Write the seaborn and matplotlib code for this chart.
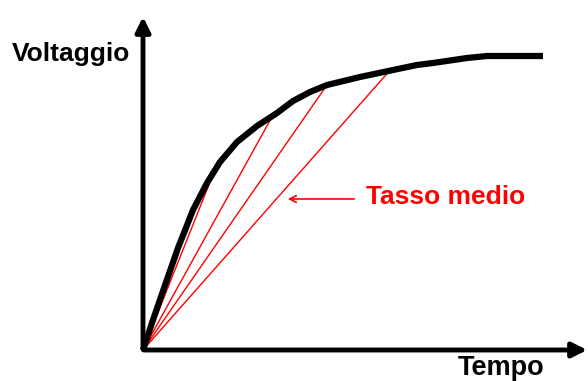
import numpy as np
import pandas as pd
import matplotlib.pyplot as plt
import seaborn as sns

# voltage curve (time, voltage)
tempo = [0, 10, 20, 35, 50, 64, 77, 94, 114, 134, 150, 167, 184, 217, 250, 274, 290, 324, 344, 400]
voltaggio = [0, 30, 59, 102, 140, 167, 188, 208, 224, 237, 249, 258, 265, 273, 280, 285, 287, 292, 294, 294]

# end points of the secant lines ("tasso medio")
secanti_x = [71, 130, 184, 249]
secanti_y = [178, 235, 265, 282]

sns.set_style("white")
plt.rcParams['font.family'] = ['Liberation Sans', 'DejaVu Sans']

fig = plt.figure(figsize=(5.88, 3.81), dpi=100)
ax = fig.add_axes([0, 0, 1, 1])

# secant lines from the origin
rows = []
for i, (xe, ye) in enumerate(zip(secanti_x, secanti_y)):
    rows.append({"t": 0, "v": 0, "k": i})
    rows.append({"t": xe, "v": ye, "k": i})
df_sec = pd.DataFrame(rows)
sns.lineplot(data=df_sec, x="t", y="v", units="k", estimator=None,
             color="red", lw=1, ax=ax)

# the curve
df = pd.DataFrame({"t": tempo, "v": voltaggio})
sns.lineplot(data=df, x="t", y="v", color="black", lw=4.5, sort=False,
             solid_capstyle="butt", solid_joinstyle="round", ax=ax)

# axes with arrows
ax.annotate("", xy=(0, 336), xytext=(0, -2), annotation_clip=False,
            arrowprops=dict(arrowstyle="-|>", lw=3.5, color="black", mutation_scale=22))
ax.annotate("", xy=(447, 0), xytext=(-2, 0), annotation_clip=False,
            arrowprops=dict(arrowstyle="-|>", lw=3.5, color="black", mutation_scale=22))

# label arrow
ax.annotate("", xy=(142, 151), xytext=(214, 151),
            arrowprops=dict(arrowstyle="->", lw=1.2, color="red", mutation_scale=12))
ax.text(223, 153, "Tasso medio", color="red", fontsize=19, fontweight="bold",
        ha="left", va="center")

ax.text(-131, 296, "Voltaggio", color="black", fontsize=19, fontweight="bold",
        ha="left", va="center")
ax.text(315, -18, "Tempo", color="black", fontsize=19.5, fontweight="bold",
        ha="left", va="center")

ax.set_xlim(-143, 445)
ax.set_ylim(-31, 350)
ax.set_axis_off()

plt.savefig("out.png", dpi=100)
plt.close()
